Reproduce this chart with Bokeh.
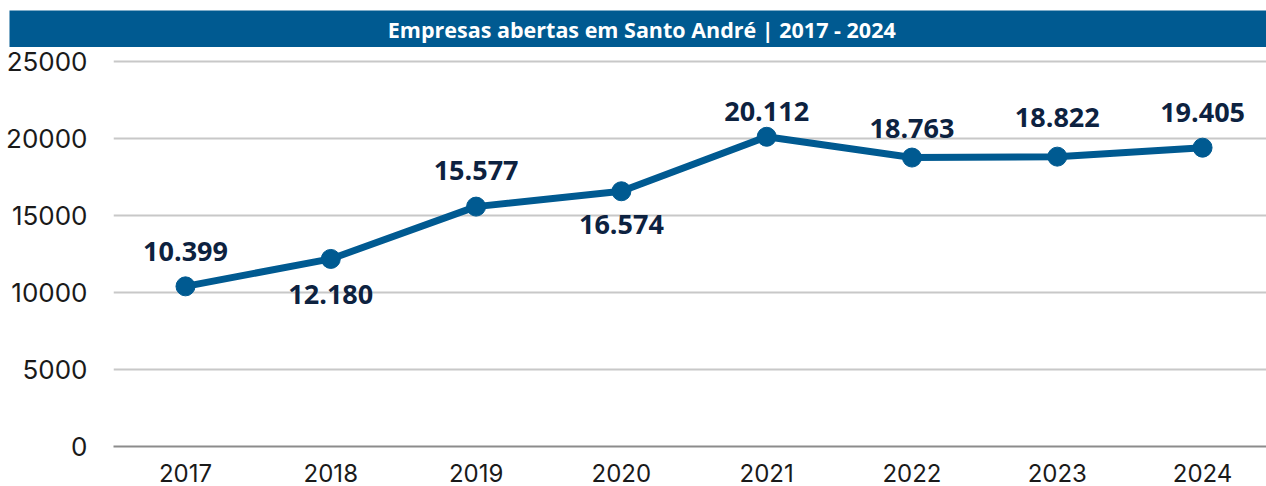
from bokeh.plotting import figure
from bokeh.models import Range1d, FixedTicker, ColumnDataSource
from bokeh.layouts import column
from bokeh.embed import file_html
from bokeh.resources import INLINE
from bokeh.core.properties import value

# ---- data ----
years = ["2017", "2018", "2019", "2020", "2021", "2022", "2023", "2024"]
empresas = [10399, 12180, 15577, 16574, 20112, 18763, 18822, 19405]
labels = ["10.399", "12.180", "15.577", "16.574", "20.112", "18.763", "18.822", "19.405"]
y_ticks = [0, 5000, 10000, 15000, 20000, 25000]
title_text = "Empresas abertas em Santo André | 2017 - 2024"

# style: label offsets (screen px, negative = above the point)
label_offsets = [-35, 36, -36, 33, -25, -29, -39, -35]

BLUE = "#005A91"
NAVY = "#0D2240"
FONT = "Open Sans"
TICK_FONT = "Inter"

# ---- header band ----
head = figure(width=1266, height=47, x_range=Range1d(0, 1), y_range=Range1d(0, 1),
              toolbar_location=None, output_backend="svg",
              x_axis_location=None, y_axis_location=None,
              min_border_top=10, min_border_left=9, min_border_right=0, min_border_bottom=0,
              background_fill_color=BLUE, border_fill_color="white",
              outline_line_color=None)
head.frame_align = False
head.grid.visible = False
head.text(x=[0.503], y=[0.5], text=[title_text], text_color="white",
          text_font=value(FONT), text_font_style="bold", text_font_size="21.5px",
          text_align="center", text_baseline="middle")

# ---- main chart ----
xs = list(range(len(years)))
src = ColumnDataSource(dict(x=xs, y=empresas, label=labels, off=label_offsets))

p = figure(width=1266, height=439, x_range=Range1d(-0.4955, 7.44), y_range=Range1d(0, 25909),
           toolbar_location=None, output_backend="svg",
           min_border_top=0, min_border_left=113, min_border_right=0, min_border_bottom=40,
           outline_line_color=None, background_fill_color="white", border_fill_color="white")
p.frame_align = False

p.xaxis.ticker = FixedTicker(ticks=xs)
p.xaxis.major_label_overrides = {i: y for i, y in enumerate(years)}
p.xaxis.major_tick_line_color = None
p.xaxis.minor_tick_line_color = None
p.xaxis.axis_line_color = "#8C8C8C"
p.xaxis.axis_line_width = 2
p.xaxis.major_label_standoff = 11
p.xaxis.major_label_text_font = TICK_FONT
p.xaxis.major_label_text_font_size = "24px"
p.xaxis.major_label_text_color = "#1A1A1A"

p.yaxis.ticker = FixedTicker(ticks=y_ticks)
p.yaxis.axis_line_color = None
p.yaxis.major_tick_line_color = None
p.yaxis.minor_tick_line_color = None
p.yaxis.major_label_standoff = 20
p.yaxis.major_label_text_font = TICK_FONT
p.yaxis.major_label_text_font_size = "26px"
p.yaxis.major_label_text_color = "#1A1A1A"

p.xgrid.visible = False
p.ygrid.ticker = FixedTicker(ticks=y_ticks[1:])
p.ygrid.grid_line_color = "#C8C8C8"
p.ygrid.grid_line_width = 2

p.line(x="x", y="y", source=src, line_color=BLUE, line_width=7)
p.scatter(x="x", y="y", source=src, size=19, fill_color=BLUE, line_color=BLUE)
p.text(x="x", y="y", text="label", source=src, y_offset="off",
       text_font=value(FONT), text_font_style="bold", text_font_size="27px",
       text_color=NAVY, text_align="center", text_baseline="middle")

layout = column(head, p, spacing=0)
open("out.html", "w").write(file_html(layout, INLINE))
